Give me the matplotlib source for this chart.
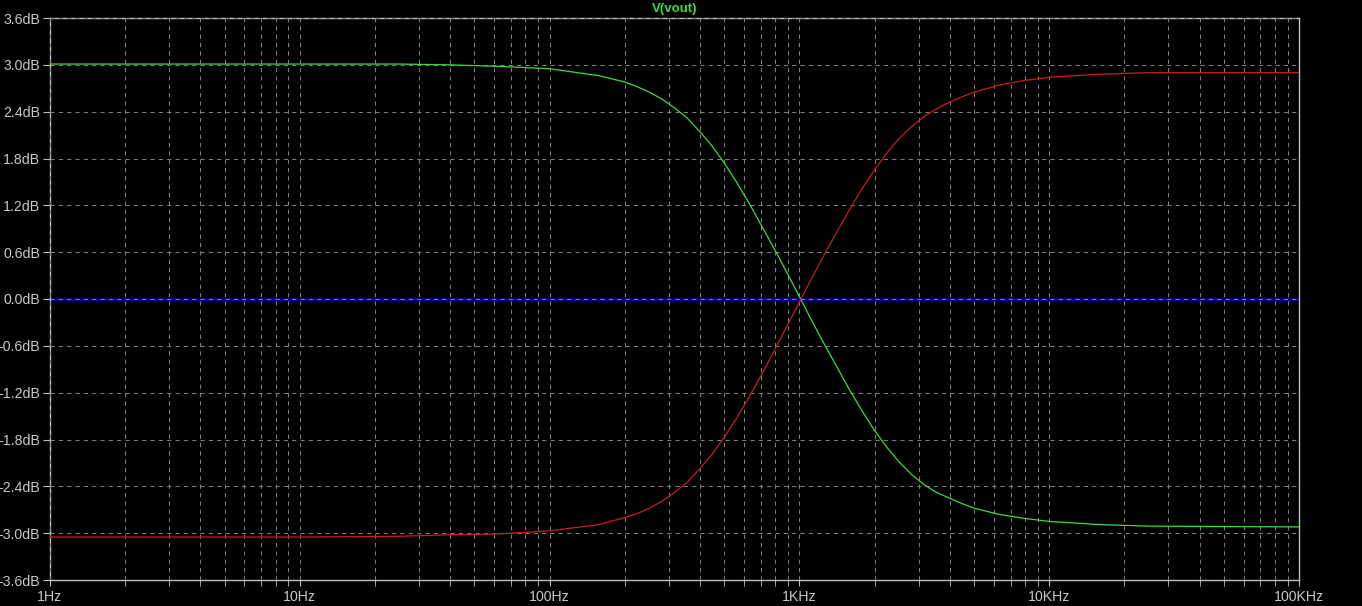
import numpy as np
import matplotlib
matplotlib.use("Agg")
import matplotlib.pyplot as plt
from matplotlib.ticker import FixedLocator, NullFormatter

# frequencies (Hz)
freq = [1, 10, 25, 40, 63, 100, 158, 200, 224, 251, 282, 316, 355, 398, 447,
        501, 562, 631, 708, 794, 891, 1000, 1122, 1259, 1413, 1585, 1778,
        1995, 2239, 2512, 2818, 3162, 3548, 3981, 4467, 5012, 6310, 7943,
        10000, 15849, 25119, 100000]

# green trace V(vout), dB
green_db = [3.01, 3.01, 3.01, 3.00, 2.98, 2.95, 2.86, 2.78, 2.72, 2.65, 2.56,
            2.45, 2.32, 2.15, 1.96, 1.74, 1.49, 1.22, 0.93, 0.64, 0.34, 0.03,
            -0.28, -0.58, -0.87, -1.16, -1.43, -1.68, -1.90, -2.09, -2.25,
            -2.38, -2.48, -2.55, -2.62, -2.68, -2.76, -2.81, -2.85, -2.89,
            -2.91, -2.92]

# red trace, dB
red_db = [-3.05, -3.05, -3.04, -3.02, -3.01, -2.97, -2.89, -2.80, -2.75, -2.68,
          -2.59, -2.48, -2.35, -2.18, -1.99, -1.77, -1.52, -1.25, -0.96, -0.66,
          -0.35, -0.04, 0.27, 0.57, 0.86, 1.14, 1.41, 1.65, 1.87, 2.06, 2.21,
          2.34, 2.44, 2.52, 2.59, 2.65, 2.74, 2.80, 2.84, 2.88, 2.90, 2.90]

# blue reference trace, dB
blue_freq = [1, 100000]
blue_db = [0.0, 0.0]

y_ticks = [3.6, 3.0, 2.4, 1.8, 1.2, 0.6, 0.0, -0.6, -1.2, -1.8, -2.4, -3.0, -3.6]
x_ticks = [1, 10, 100, 1000, 10000, 100000]
x_labels = ["1Hz", "10Hz", "100Hz", "1KHz", "10KHz", "100KHz"]

plt.rcParams['font.family'] = ['Liberation Sans', 'DejaVu Sans']

fig = plt.figure(figsize=(13.62, 6.06), dpi=100, facecolor='black')
ax = fig.add_axes([50 / 1362, 1 - 580 / 606, 1249 / 1362, 562 / 606])
ax.set_facecolor('black')

ax.plot(blue_freq, blue_db, color='#0000b0', lw=1.8, zorder=1)
ax.plot(freq, green_db, color='#3cdc3c', lw=0.9, zorder=3)
ax.plot(freq, red_db, color='#c81e1e', lw=0.9, zorder=3)

ax.set_xscale('log')
ax.set_xlim(1, 100000)
ax.set_ylim(-3.6, 3.6)

ax.xaxis.set_major_locator(FixedLocator(x_ticks))
minors = [m * d for d in x_ticks[:-1] for m in range(2, 10)]
ax.xaxis.set_minor_locator(FixedLocator(minors))
ax.xaxis.set_minor_formatter(NullFormatter())
ax.set_xticklabels(x_labels)
ax.set_yticks(y_ticks)
ax.set_yticklabels([f"{v:.1f}dB" for v in y_ticks])

grid_kw = dict(color='#808080', lw=0.75, linestyle=(0, (4, 4)))
ax.grid(True, which='major', axis='both', **grid_kw)
ax.grid(True, which='minor', axis='x', **grid_kw)
ax.set_axisbelow(False)
for gl in ax.get_xgridlines() + ax.get_ygridlines():
    gl.set_zorder(2)

for s in ax.spines.values():
    s.set_color('#c0c0c0')
    s.set_linewidth(1.0)

ax.tick_params(axis='both', which='both', colors='#c0c0c0', direction='out',
               labelsize=10.2, labelcolor='#c8c8c8')
ax.tick_params(axis='y', length=5, pad=2)
ax.tick_params(axis='x', which='major', length=4, pad=3)
ax.tick_params(axis='x', which='minor', length=4)

fig.text(675 / 1362, 1 - 9 / 606, "V(vout)", color='#3cdc3c', fontsize=9.5,
         fontweight='bold', ha='center', va='center')

fig.savefig("out.png", dpi=100, facecolor='black')
